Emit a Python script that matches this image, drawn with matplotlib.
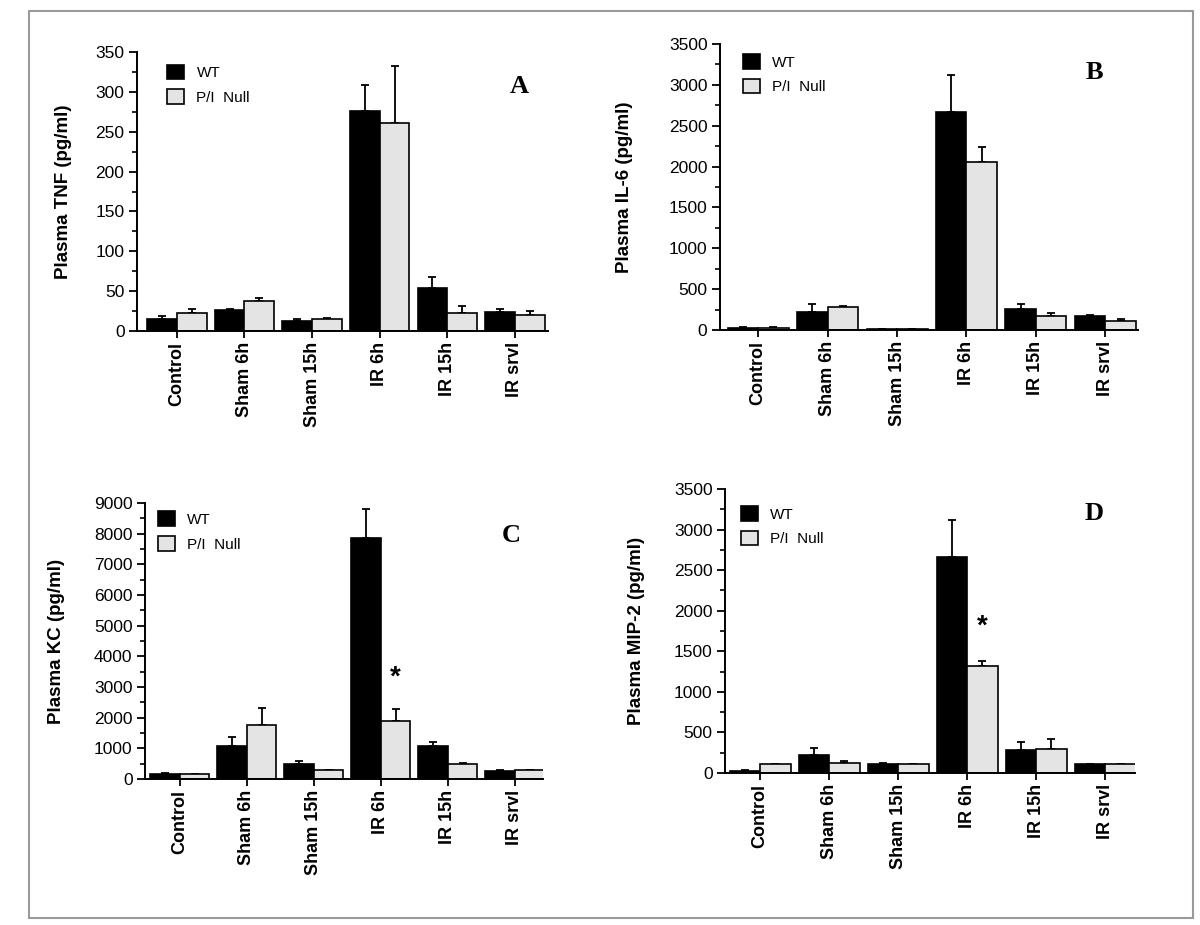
import matplotlib
matplotlib.use("Agg")
import matplotlib.pyplot as plt
import numpy as np
from matplotlib.patches import Rectangle, Patch
from matplotlib.ticker import MultipleLocator

plt.rcParams['font.family'] = ['Liberation Sans', 'DejaVu Sans']

categories = ["Control", "Sham 6h", "Sham 15h", "IR 6h", "IR 15h", "IR srvl"]

# Panel A: TNF
tnf_wt = [15, 26, 12, 276, 54, 24]
tnf_wt_err = [3.5, 1, 3, 33, 14, 4]
tnf_null = [22, 38, 15, 261, 22, 20]
tnf_null_err = [6, 4, 1.5, 71, 9, 5.5]

# Panel B: IL-6
il6_wt = [25, 224, 16, 2668, 261, 171]
il6_wt_err = [15, 90, 0, 449, 53, 17]
il6_null = [20, 277, 16, 2060, 167, 110]
il6_null_err = [15, 20, 0, 184, 37, 20]

# Panel C: KC
kc_wt = [163, 1066, 500, 7846, 1066, 261]
kc_wt_err = [44, 316, 88, 947, 131, 44]
kc_null = [152, 1752, 305, 1894, 490, 305]
kc_null_err = [0, 566, 0, 380, 43, 0]

# Panel D: MIP-2
mip_wt = [21, 226, 111, 2660, 280, 111]
mip_wt_err = [16, 87, 17, 453, 103, 0]
mip_null = [111, 128, 111, 1313, 292, 111]
mip_null_err = [0, 20, 0, 70, 132, 0]

series_labels = ["WT", "P/I  Null"]
ylabels = ["Plasma TNF (pg/ml)", "Plasma IL-6 (pg/ml)", "Plasma KC (pg/ml)", "Plasma MIP-2 (pg/ml)"]
panel_letters = ["A", "B", "C", "D"]
ymaxes = [350, 3500, 9000, 3500]
majors = [50, 500, 1000, 500]
minors = [25, 250, 500, 250]

W, H = 1200, 925
fig = plt.figure(figsize=(W / 100, H / 100), dpi=100)

# outer frame
fig.patches.append(Rectangle((29 / W, 1 - 918 / H), (1193 - 29) / W, (918 - 11) / H,
                             transform=fig.transFigure, fill=False,
                             edgecolor='#9a9a9a', linewidth=1.5))

# axes boxes in pixel coords (left, right, top, bottom)
boxes = [(137, 548, 52, 331), (720, 1138, 44, 330), (145, 543, 503, 779), (725, 1135, 489, 773)]
xlims = [(-0.59, 5.49), (-0.55, 5.47), (-0.52, 5.42), (-0.51, 5.43)]
ylab_x = [-0.157, -0.209, -0.20, -0.195]
letter_pos = [(0.93, 0.875), (0.895, 0.90), (0.92, 0.884), (0.90, 0.915)]
legend_pos = [(0.074, 0.955), (0.055, 0.965), (0.033, 0.97), (0.04, 0.94)]

data = [(tnf_wt, tnf_wt_err, tnf_null, tnf_null_err),
        (il6_wt, il6_wt_err, il6_null, il6_null_err),
        (kc_wt, kc_wt_err, kc_null, kc_null_err),
        (mip_wt, mip_wt_err, mip_null, mip_null_err)]

stars = {2: 3300, 3: 1800}

null_color = '#e4e4e4'
bw = 0.44
x = np.arange(len(categories))

for i, (l, r, t, b) in enumerate(boxes):
    ax = fig.add_axes([l / W, 1 - b / H, (r - l) / W, (b - t) / H])
    wt, wte, nl, nle = data[i]
    ax.bar(x - bw / 2, wt, bw, color='black', edgecolor='black', linewidth=1.2, zorder=2)
    ax.bar(x + bw / 2, nl, bw, color=null_color, edgecolor='black', linewidth=1.2, zorder=2)
    ax.errorbar(x - bw / 2, wt, yerr=[np.zeros(len(wt)), wte], fmt='none', ecolor='black',
                elinewidth=1.3, capsize=2.8, capthick=1.3, zorder=1)
    ax.errorbar(x + bw / 2, nl, yerr=[np.zeros(len(nl)), nle], fmt='none', ecolor='black',
                elinewidth=1.3, capsize=2.8, capthick=1.3, zorder=1)
    ax.set_xlim(*xlims[i])
    ax.set_ylim(0, ymaxes[i])
    ax.yaxis.set_major_locator(MultipleLocator(majors[i]))
    ax.yaxis.set_minor_locator(MultipleLocator(minors[i]))
    ax.set_xticks(x)
    ax.set_xticklabels(categories, rotation=90, fontweight='bold', fontsize=13)
    ax.tick_params(axis='y', which='major', length=6, width=1.3, labelsize=12.5, pad=3)
    ax.tick_params(axis='y', which='minor', length=3.5, width=1.2)
    ax.tick_params(axis='x', length=5, width=1.3, pad=3)
    for s in ['top', 'right']:
        ax.spines[s].set_visible(False)
    for s in ['left', 'bottom']:
        ax.spines[s].set_linewidth(1.4)
    ax.set_ylabel(ylabels[i], fontweight='bold', fontsize=13.5)
    ax.yaxis.set_label_coords(ylab_x[i], 0.5)
    ax.text(letter_pos[i][0], letter_pos[i][1], panel_letters[i], transform=ax.transAxes,
            ha='center', va='center', fontsize=19, fontweight='bold', family='Liberation Serif')
    handles = [Patch(facecolor='black', edgecolor='black', linewidth=1.2),
               Patch(facecolor=null_color, edgecolor='black', linewidth=1.2)]
    ax.legend(handles, series_labels, loc='upper left', bbox_to_anchor=legend_pos[i],
              frameon=False, fontsize=11, handlelength=1.1, handleheight=1.1,
              handletextpad=0.8, labelspacing=0.6, borderpad=0, borderaxespad=0)
    if i in stars:
        ax.text(3 + bw / 2, stars[i], "*", ha='center', va='center', fontsize=20,
                fontweight='bold')

fig.savefig("out.png", dpi=100)
